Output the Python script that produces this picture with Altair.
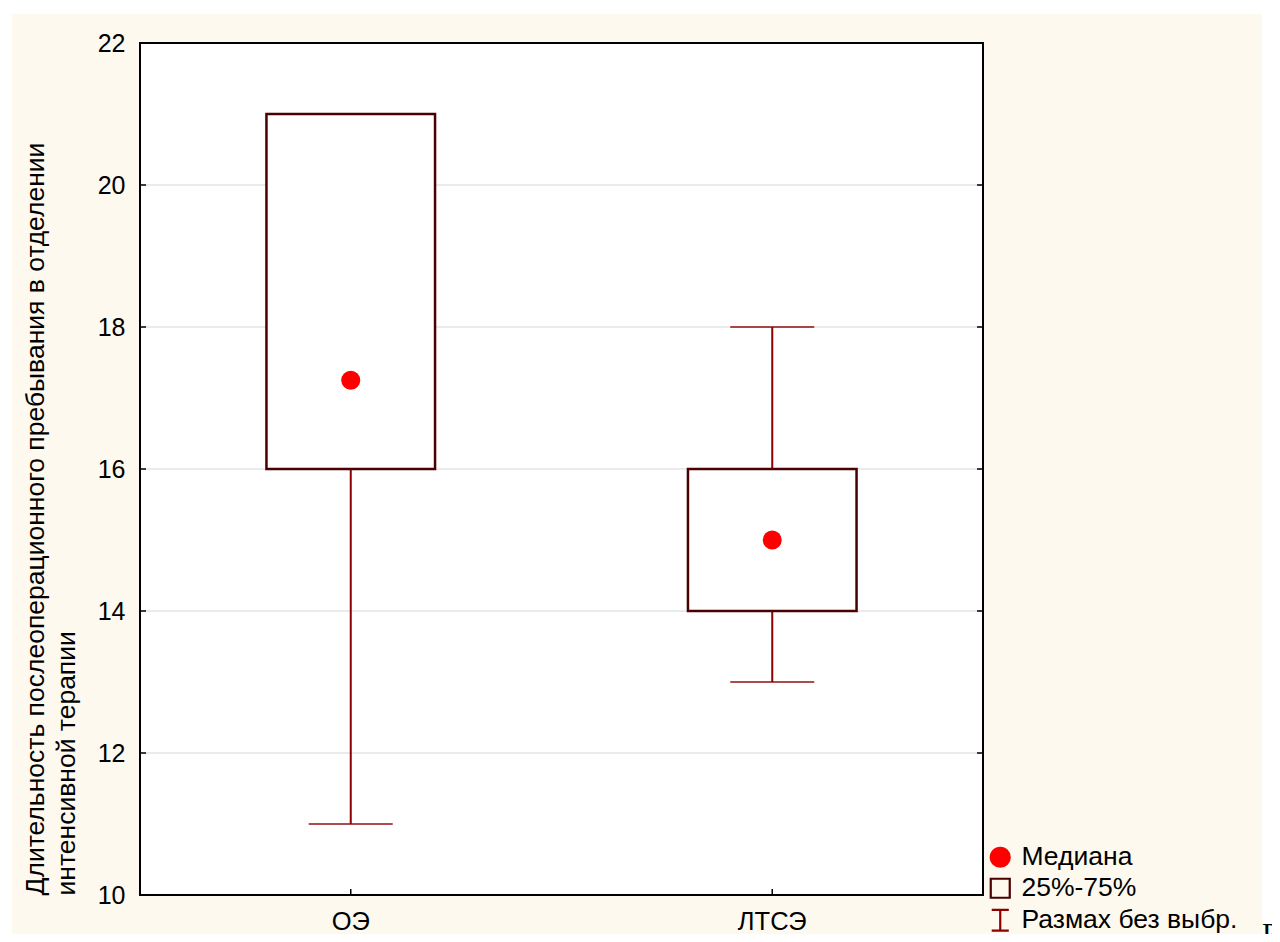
import altair as alt
import pandas as pd

# ---- data ----
categories = ["ОЭ", "ЛТСЭ"]
medians = [17.25, 15.0]
q1 = [16.0, 14.0]
q3 = [21.0, 16.0]
whisker_lo = [11.0, 13.0]
whisker_hi = [21.0, 18.0]
y_ticks = [10, 12, 14, 16, 18, 20, 22]
legend_labels = ["Медиана", "25%-75%", "Размах без выбр."]
y_title = ["Длительность послеоперационного пребывания в отделении",
           "интенсивной терапии"]
corner_text = "Р"

# ---- styling ----
W, H = 843, 852
FONT = "Liberation Sans"
BOX = "#4a0000"
WHISK = "#8c0000"
CREAM = "#fdf9ef"
GRID = "#e4e4e4"

df = pd.DataFrame({"cat": categories, "median": medians, "q1": q1, "q3": q3,
                   "lo": whisker_lo, "hi": whisker_hi,
                   "leg": [legend_labels[0]] * len(categories)})
ticks_df = pd.DataFrame({"v": y_ticks})
cats_df = pd.DataFrame({"cat": categories})
one = pd.DataFrame({"k": [0]})

xscale = alt.Scale(domain=categories, paddingInner=0.6, paddingOuter=0.3)
yscale = alt.Scale(domain=[10, 22], nice=False, zero=False)
xaxis = alt.Axis(title=None, ticks=False, domain=False, grid=False, zindex=1,
                 labelFont=FONT, labelFontSize=25.5, labelColor="black",
                 labelPadding=14, labelAngle=0)
yaxis = alt.Axis(title=y_title, values=y_ticks, ticks=False, domain=False, grid=False,
                 zindex=1,
                 labelFont=FONT, labelFontSize=25, labelColor="black", labelPadding=15,
                 titleFont=FONT, titleFontSize=26.5, titleFontWeight="normal",
                 titleColor="black", titleAnchor="start", titleAlign="left",
                 titleAngle=270, titleBaseline="alphabetic", titleX=-97, titleY=H,
                 titleLineHeight=31)


def X():
    return alt.X("cat:N", scale=xscale, axis=xaxis)


def Y(field):
    return alt.Y(f"{field}:Q", scale=yscale, axis=yaxis)


cream = alt.Chart(one).mark_rect(color=CREAM).encode(
    x=alt.value(-128), x2=alt.value(1122), y=alt.value(-29), y2=alt.value(900))
white = alt.Chart(one).mark_rect(color="white").encode(
    x=alt.value(0), x2=alt.value(W), y=alt.value(0), y2=alt.value(H))

grid = alt.Chart(ticks_df).mark_rule(color=GRID, strokeWidth=1.5).encode(
    y=Y("v"), x=alt.value(0), x2=alt.value(W))
lticks = alt.Chart(ticks_df).mark_rule(color="black", strokeWidth=1.5).encode(
    y=Y("v"), x=alt.value(0), x2=alt.value(6))
rticks = alt.Chart(ticks_df).mark_rule(color="black", strokeWidth=1.5).encode(
    y=Y("v"), x=alt.value(W - 6), x2=alt.value(W))
bticks = alt.Chart(cats_df).mark_rule(color="black", strokeWidth=1.5).encode(
    x=X(), y=alt.value(H - 6), y2=alt.value(H))

whisk = alt.Chart(df).mark_rule(color=WHISK, strokeWidth=2).encode(
    x=X(), y=Y("lo"), y2="hi:Q")
cap_lo = alt.Chart(df).mark_tick(color=WHISK, size=84, thickness=2).encode(
    x=X(), y=Y("lo"))
cap_hi = alt.Chart(df).mark_tick(color=WHISK, size=84, thickness=2).encode(
    x=X(), y=Y("hi"))
box = alt.Chart(df).mark_bar(fill="white", stroke=BOX, strokeWidth=2.5).encode(
    x=X(), y=Y("q1"), y2="q3:Q")

legend = alt.Legend(title=None, orient="none", legendX=847, legendY=801,
                    symbolSize=361, symbolStrokeWidth=2.2, labelFont=FONT,
                    labelFontSize=26.5, labelColor="black", labelOffset=8,
                    labelLimit=400, rowPadding=2, padding=0, symbolOpacity=1)
med = alt.Chart(df).mark_point(size=361, strokeWidth=0, opacity=1).encode(
    x=X(), y=Y("median"),
    fill=alt.Fill("leg:N", scale=alt.Scale(domain=legend_labels,
                  range=["#ff0000", "transparent", "transparent"]), legend=legend),
    stroke=alt.Stroke("leg:N", scale=alt.Scale(domain=legend_labels,
                      range=["#ff0000", BOX, WHISK]), legend=legend),
    shape=alt.Shape("leg:N", scale=alt.Scale(domain=legend_labels,
                    range=["circle", "square", "M-0.9,-1.1H0.9M0,-1.1V1.1M-0.9,1.1H0.9"]),
                    legend=legend),
)

border = alt.Chart(one).mark_rect(fillOpacity=0, stroke="black", strokeWidth=2).encode(
    x=alt.value(0), x2=alt.value(W), y=alt.value(0), y2=alt.value(H))

corner = alt.Chart(one).mark_text(text=corner_text, font="Liberation Serif", fontSize=30,
                                  align="left", baseline="top", color="black").encode(
    x=alt.value(1122), y=alt.value(876))

chart = alt.layer(cream, white, grid, lticks, rticks, bticks, whisk, cap_lo, cap_hi,
                  box, med, border, corner).properties(
    width=W, height=H,
    padding={"left": 132, "top": 35, "right": 289, "bottom": 39},
    autosize=alt.AutoSizeParams(type="none"),
    background="white",
).configure_view(stroke=None, fill="white")

chart.save("out.html", embed_options={"renderer": "svg", "actions": False})
